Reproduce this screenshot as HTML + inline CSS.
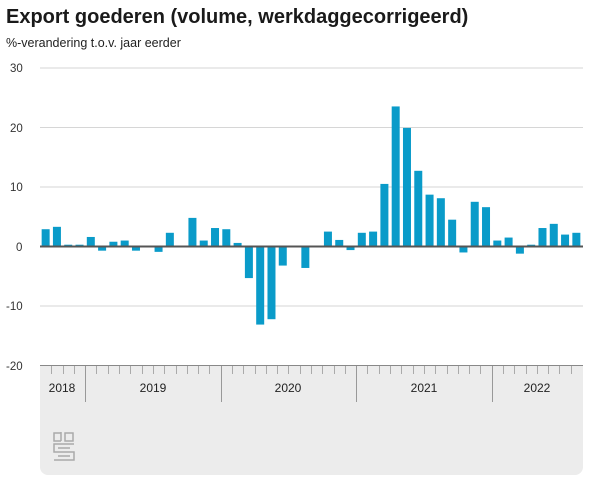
<!DOCTYPE html>
<html><head><meta charset="utf-8"><style>
html,body{margin:0;padding:0;background:#fff;width:600px;height:489px;overflow:hidden}
svg{display:block;font-family:"Liberation Sans",sans-serif}
</style></head><body>
<svg id="c" width="600" height="489" viewBox="0 0 600 489">
<text x="6" y="23" font-size="20" font-weight="bold" fill="#1a1a1a">Export goederen (volume, werkdaggecorrigeerd)</text>
<text x="6" y="47" font-size="12.5" fill="#222">%-verandering t.o.v. jaar eerder</text>
<g font-size="11.5" fill="#333">
<text x="10" y="72">30</text>
<text x="10" y="132">20</text>
<text x="10" y="191">10</text>
<text x="16" y="251">0</text>
<text x="6" y="310">-10</text>
<text x="6" y="370">-20</text>
</g>
<g stroke="#d6d6d6" stroke-width="1">
<line x1="40" x2="583" y1="68" y2="68"/>
<line x1="40" x2="583" y1="127.5" y2="127.5"/>
<line x1="40" x2="583" y1="187" y2="187"/>
<line x1="40" x2="583" y1="306" y2="306"/>
</g>
<path d="M40 365 H583 V467 a8 8 0 0 1 -8 8 H48 a8 8 0 0 1 -8 -8 Z" fill="#ececec"/>
<line x1="40" x2="583" y1="365.5" y2="365.5" stroke="#888" stroke-width="1"/>
<g id="bars" fill="#0a9bc9"></g>
<line x1="40" x2="583" y1="246.5" y2="246.5" stroke="#555" stroke-width="2"/>
<g id="ticks" stroke="#aaa" stroke-width="1"></g>
<g font-size="12" fill="#222" text-anchor="middle">
<text x="62" y="392">2018</text>
<text x="153" y="392">2019</text>
<text x="288" y="392">2020</text>
<text x="424" y="392">2021</text>
<text x="537" y="392">2022</text>
</g>
<g fill="none" stroke="#aaa" stroke-width="1.5">
<path d="M61 433 H54 V441 H61"/>
<rect x="65" y="433" width="8" height="8"/>
<path d="M61 432 V441"/>
<path d="M74 444 H54 V452 H74 V460 H54"/>
<path d="M70 448 H58 M58 456 H70"/>
</g>
</svg>
<script>
var v=[2.9,3.3,0.3,0.3,1.6,-0.7,0.8,1.0,-0.7,0,-0.9,2.3,0,4.8,1.0,3.1,2.9,0.6,-5.3,-13.1,-12.2,-3.2,0,-3.6,0,2.5,1.1,-0.6,2.3,2.5,10.5,23.5,19.9,12.7,8.7,8.1,4.5,-1.0,7.5,6.6,1.0,1.5,-1.2,0.3,3.1,3.8,2.0,2.3];
var ns="http://www.w3.org/2000/svg",b=document.getElementById("bars"),t=document.getElementById("ticks");
var x0=40,st=542/48,z=246.5,s=5.96;
v.forEach(function(d,i){var r=document.createElementNS(ns,"rect");var cx=x0+(i+0.5)*st;
var h=Math.abs(d)*s;r.setAttribute("x",cx-4);r.setAttribute("width",8);
r.setAttribute("y",d>=0?z-h:z);r.setAttribute("height",h);b.appendChild(r);});
for(var i=1;i<48;i++){var x=Math.round(x0+i*st)+0.5;var l=document.createElementNS(ns,"line");
var yr=(i==4||i==16||i==28||i==40);l.setAttribute("x1",x);l.setAttribute("x2",x);
l.setAttribute("y1",366);l.setAttribute("y2",yr?402:374);if(yr)l.setAttribute("stroke","#999");t.appendChild(l);}
</script>
</body></html>
